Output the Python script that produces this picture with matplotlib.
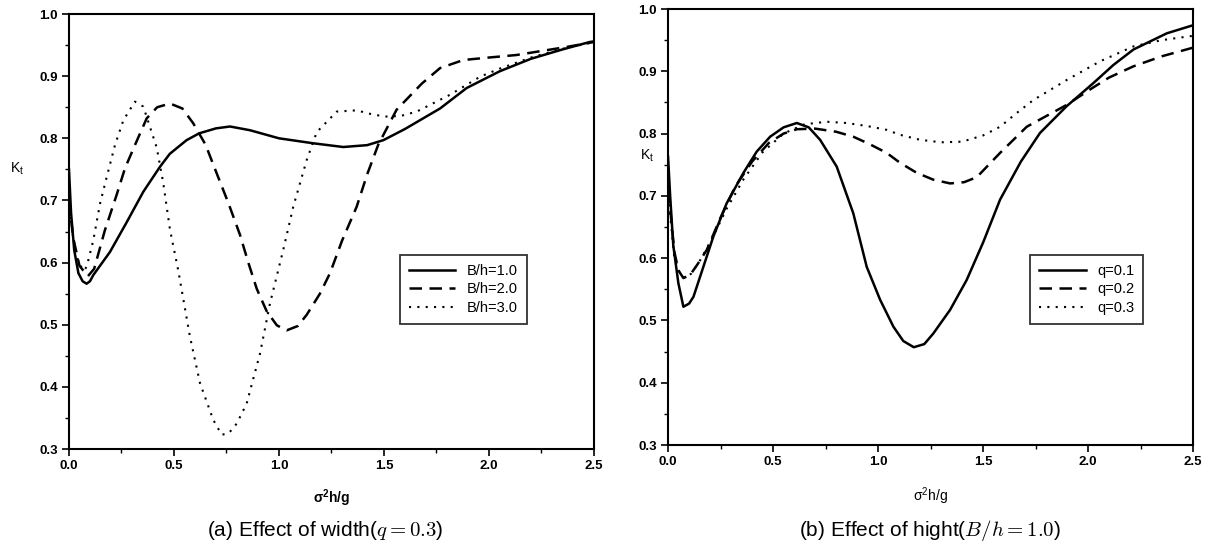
import matplotlib
matplotlib.use("Agg")
import matplotlib.pyplot as plt

plt.rcParams['font.family'] = ['Liberation Sans', 'DejaVu Sans']
plt.rcParams['mathtext.fontset'] = 'cm'

# (a) Effect of width, q = 0.3
x_b1 = [0.0, 0.01, 0.025, 0.045, 0.065, 0.084, 0.1, 0.116, 0.195, 0.275, 0.354, 0.433, 0.48, 0.56,
        0.62, 0.70, 0.767, 0.862, 1.0, 1.163, 1.306, 1.42, 1.497, 1.6, 1.767, 1.894, 2.052, 2.2,
        2.35, 2.48, 2.5]
y_b1 = [0.75, 0.68, 0.62, 0.583, 0.570, 0.566, 0.570, 0.580, 0.617, 0.665, 0.714, 0.754, 0.775, 0.797,
        0.808, 0.816, 0.819, 0.813, 0.80, 0.792, 0.786, 0.789, 0.797, 0.815, 0.848, 0.881, 0.908, 0.928,
        0.943, 0.955, 0.956]

x_b2 = [0.0, 0.02, 0.05, 0.09, 0.12, 0.171, 0.227, 0.267, 0.314, 0.37, 0.42, 0.481, 0.54, 0.592,
        0.65, 0.703, 0.76, 0.814, 0.854, 0.894, 0.941, 0.99, 1.037, 1.09, 1.132, 1.195, 1.243, 1.30,
        1.37, 1.42, 1.473, 1.56, 1.68, 1.767, 1.878, 2.0, 2.13, 2.37, 2.5]
y_b2 = [0.70, 0.64, 0.595, 0.578, 0.59, 0.652, 0.709, 0.752, 0.789, 0.832, 0.85, 0.856, 0.848, 0.824,
        0.79, 0.744, 0.695, 0.645, 0.60, 0.558, 0.522, 0.499, 0.491, 0.498, 0.516, 0.55, 0.583, 0.635,
        0.69, 0.742, 0.79, 0.846, 0.888, 0.913, 0.926, 0.93, 0.934, 0.947, 0.955]

x_b3 = [0.0, 0.02, 0.045, 0.07, 0.084, 0.116, 0.148, 0.18, 0.219, 0.259, 0.314, 0.354, 0.418, 0.449,
        0.481, 0.52, 0.576, 0.624, 0.687, 0.727, 0.76, 0.799, 0.846, 0.91, 0.957, 1.02, 1.068, 1.132,
        1.18, 1.275, 1.37, 1.45, 1.513, 1.58, 1.656, 1.814, 1.957, 2.05, 2.2, 2.35, 2.5]
y_b3 = [0.70, 0.64, 0.60, 0.587, 0.593, 0.636, 0.695, 0.738, 0.789, 0.829, 0.859, 0.851, 0.785, 0.728,
        0.653, 0.588, 0.481, 0.406, 0.347, 0.323, 0.325, 0.341, 0.373, 0.454, 0.534, 0.62, 0.69, 0.765,
        0.81, 0.843, 0.845, 0.838, 0.835, 0.836, 0.843, 0.87, 0.899, 0.912, 0.93, 0.944, 0.955]

# (b) Effect of height, B/h = 1.0
x_q1 = [0.0, 0.01, 0.025, 0.049, 0.073, 0.1, 0.121, 0.168, 0.216, 0.279, 0.359, 0.422, 0.486, 0.55,
        0.613, 0.67, 0.724, 0.803, 0.882, 0.946, 1.01, 1.073, 1.12, 1.17, 1.22, 1.263, 1.343, 1.422,
        1.5, 1.581, 1.68, 1.771, 1.898, 2.025, 2.12, 2.216, 2.375, 2.5]
y_q1 = [0.763, 0.70, 0.62, 0.56, 0.522, 0.527, 0.538, 0.586, 0.635, 0.688, 0.737, 0.771, 0.795, 0.81,
        0.817, 0.81, 0.79, 0.747, 0.672, 0.586, 0.533, 0.49, 0.467, 0.457, 0.462, 0.479, 0.517, 0.565,
        0.625, 0.694, 0.755, 0.801, 0.844, 0.881, 0.91, 0.935, 0.961, 0.974]

x_q2 = [0.0, 0.01, 0.03, 0.05, 0.073, 0.105, 0.14, 0.184, 0.25, 0.32, 0.4, 0.48, 0.55, 0.613, 0.7,
        0.8, 0.882, 0.96, 1.041, 1.105, 1.184, 1.263, 1.343, 1.41, 1.47, 1.581, 1.708, 1.8, 1.898,
        2.01, 2.1, 2.216, 2.35, 2.5]
y_q2 = [0.74, 0.68, 0.61, 0.58, 0.568, 0.573, 0.59, 0.613, 0.665, 0.715, 0.755, 0.785, 0.80, 0.807,
        0.808, 0.803, 0.795, 0.783, 0.769, 0.753, 0.737, 0.726, 0.72, 0.722, 0.73, 0.769, 0.811, 0.828,
        0.846, 0.871, 0.89, 0.908, 0.924, 0.938]

x_q3 = [0.0, 0.01, 0.03, 0.057, 0.08, 0.11, 0.15, 0.2, 0.28, 0.36, 0.45, 0.55, 0.65, 0.756, 0.85,
        0.95, 1.041, 1.105, 1.2, 1.3, 1.4, 1.5, 1.581, 1.66, 1.74, 1.898, 2.057, 2.216, 2.35, 2.5]
y_q3 = [0.74, 0.67, 0.60, 0.575, 0.568, 0.575, 0.595, 0.625, 0.68, 0.727, 0.77, 0.80, 0.815, 0.819,
        0.817, 0.812, 0.806, 0.798, 0.79, 0.786, 0.787, 0.797, 0.811, 0.833, 0.854, 0.886, 0.916, 0.94,
        0.95, 0.957]

labels_a = ['B/h=1.0', 'B/h=2.0', 'B/h=3.0']
labels_b = ['q=0.1', 'q=0.2', 'q=0.3']

fig = plt.figure(figsize=(12.12, 5.5), dpi=100)
ax1 = fig.add_axes([0.0569, 0.1836, 0.4332, 0.7909])
ax2 = fig.add_axes([0.5512, 0.1909, 0.4332, 0.7927])


def style(ax, xlab_bold):
    ax.set_xlim(0, 2.5)
    ax.set_ylim(0.3, 1.0)
    ax.set_xticks([0.0, 0.5, 1.0, 1.5, 2.0, 2.5])
    ax.set_xticks([0.25, 0.75, 1.25, 1.75, 2.25], minor=True)
    ax.set_yticks([0.3, 0.4, 0.5, 0.6, 0.7, 0.8, 0.9, 1.0])
    ax.set_yticks([0.35, 0.45, 0.55, 0.65, 0.75, 0.85, 0.95], minor=True)
    ax.tick_params(which='major', direction='out', length=5, width=1.2, labelsize=9.5, pad=3)
    ax.tick_params(which='minor', direction='out', length=3, width=1.0)
    for lab in ax.get_xticklabels() + ax.get_yticklabels():
        lab.set_fontweight('bold')
    for sp in ax.spines.values():
        sp.set_linewidth(1.5)
    ax.set_xlabel(r'$\mathregular{\sigma^2}$h/g', fontsize=10,
                  fontweight='bold' if xlab_bold else 'normal')


style(ax1, True)
style(ax2, False)

ax1.plot(x_b1, y_b1, color='black', lw=1.8, ls='-', label=labels_a[0])
ax1.plot(x_b2, y_b2, color='black', lw=1.8, ls=(0, (5, 3)), label=labels_a[1])
ax1.plot(x_b3, y_b3, color='black', lw=1.5, ls=(0, (1, 3)), label=labels_a[2])

ax2.plot(x_q1, y_q1, color='black', lw=1.8, ls='-', label=labels_b[0])
ax2.plot(x_q2, y_q2, color='black', lw=1.8, ls=(0, (5, 3)), label=labels_b[1])
ax2.plot(x_q3, y_q3, color='black', lw=1.5, ls=(0, (1, 3)), label=labels_b[2])

ax1.xaxis.set_label_coords(0.5, -0.088)
ax2.xaxis.set_label_coords(0.5, -0.092)

ax1.set_ylabel('K$\\mathregular{_t}$', fontsize=10, rotation=0)
ax1.yaxis.set_label_coords(-0.099, 0.625)
ax2.set_ylabel('K$\\mathregular{_t}$', fontsize=10, rotation=0)
ax2.yaxis.set_label_coords(-0.04, 0.645)

for ax, anchor in [(ax1, (0.324, 0.549)), (ax2, (0.844, 0.549))]:
    leg = ax.legend(loc='upper left', bbox_to_anchor=anchor, bbox_transform=fig.transFigure,
                    frameon=True, fancybox=False, edgecolor='black', fontsize=10.5,
                    handlelength=3.2, borderpad=0.6, labelspacing=0.3)
    leg.get_frame().set_linewidth(1.3)

fig.text(0.268, 0.036, r'(a) Effect of width($q=0.3$)', ha='center', va='center', fontsize=15)
fig.text(0.767, 0.036, r'(b) Effect of hight($B/h=1.0$)', ha='center', va='center', fontsize=15)

fig.savefig('out.png', dpi=100)
